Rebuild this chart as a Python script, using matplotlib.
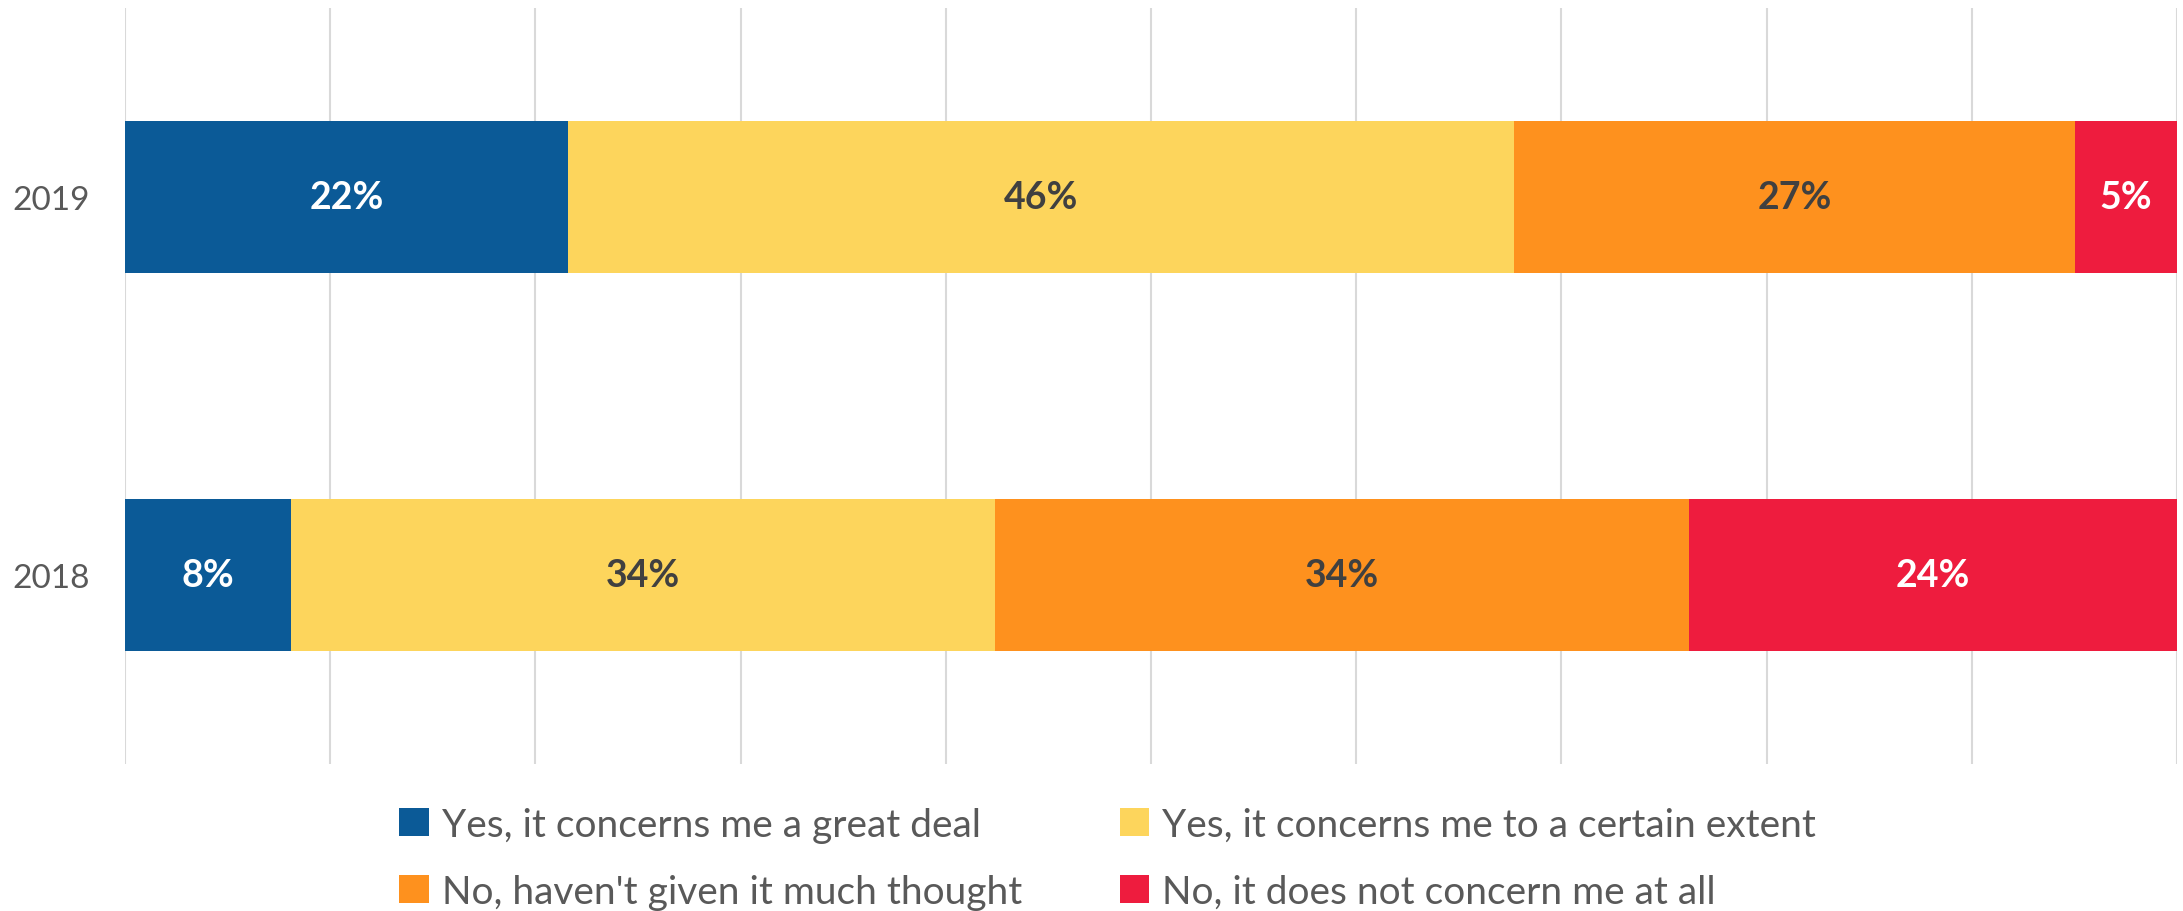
import numpy as np
import matplotlib.pyplot as plt
from matplotlib.patches import Patch

years = ['2018', '2019']
series = ['Yes, it concerns me a great deal',
          'Yes, it concerns me to a certain extent',
          "No, haven't given it much thought",
          'No, it does not concern me at all']
# share of respondents per year (2018, 2019)
great_deal = [8.1, 21.6]
certain_extent = [34.3, 46.1]
not_much_thought = [33.8, 27.3]
not_at_all = [23.8, 5.0]
values = [great_deal, certain_extent, not_much_thought, not_at_all]

colors = ['#0B5A97', '#FDD55C', '#FE911E', '#EE1C3E']
label_colors = ['white', '#404040', '#404040', 'white']

plt.rcParams['font.family'] = ['Lato', 'DejaVu Sans']

fig = plt.figure(figsize=(21.83, 9.12), dpi=100)
ax = fig.add_axes([0.0573, 0.1612, 0.94, 0.8289])

y = np.arange(len(years))
left = np.zeros(len(years))
for vals, col, lcol in zip(values, colors, label_colors):
    vals = np.array(vals)
    ax.barh(y, vals, left=left, height=0.4, color=col, zorder=3)
    for yi, (l, v) in enumerate(zip(left, vals)):
        ax.text(l + v / 2, yi, f'{v:.0f}%', ha='center', va='center',
                color=lcol, fontsize=27, fontweight='bold', zorder=4)
    left += vals

ax.set_xlim(0, 100)
ax.set_ylim(-0.5, 1.5)
ax.set_xticks(np.arange(0, 101, 10))
ax.xaxis.grid(True, color='#D9D9D9', linewidth=1.5, zorder=0)
ax.tick_params(axis='x', length=0, labelbottom=False)
ax.tick_params(axis='y', length=0, pad=25, labelsize=24, labelcolor='#595959')
ax.set_yticks(y)
ax.set_yticklabels(years)
for s in ax.spines.values():
    s.set_visible(False)

# legend fills by column, so reorder to get row-major layout
order = [0, 2, 1, 3]
handles = [Patch(facecolor=colors[i], edgecolor='none') for i in order]
labels = [series[i] for i in order]
fig.legend(handles, labels, loc='center', bbox_to_anchor=(0.5075, 0.058),
           ncol=2, frameon=False, fontsize=28, labelcolor='#595959',
           handlelength=0.75, handleheight=0.75, handletextpad=0.35,
           columnspacing=2.5, labelspacing=0.8)

fig.savefig('out.png', dpi=100)
